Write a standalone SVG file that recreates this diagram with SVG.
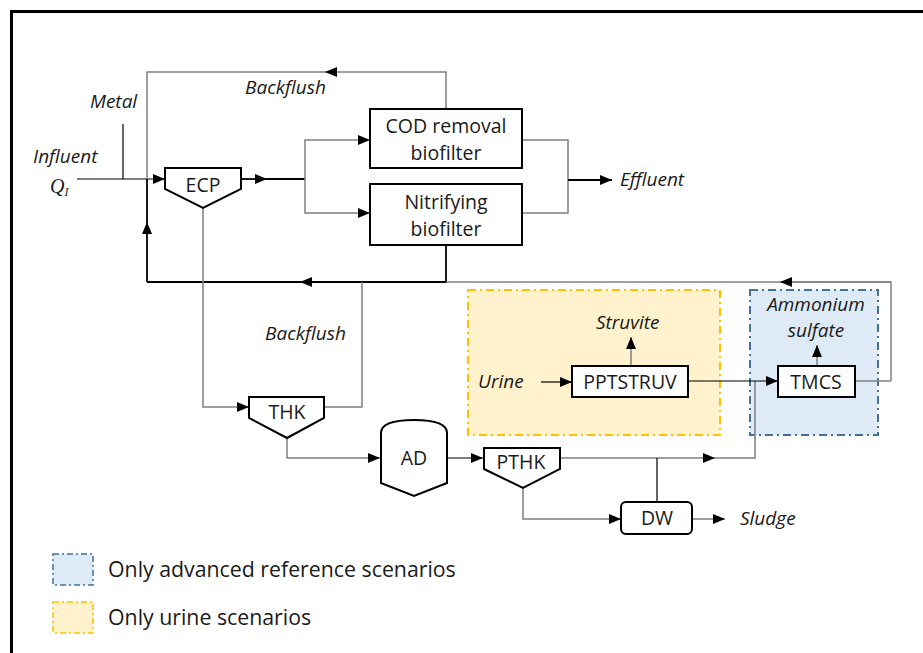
<svg xmlns="http://www.w3.org/2000/svg" width="923" height="653" viewBox="0 0 923 653">
<defs>
<marker id="ah" markerUnits="userSpaceOnUse" markerWidth="14" markerHeight="12" refX="12" refY="5" orient="auto">
<path d="M0,0 L12,5 L0,10 Z" fill="#000"/>
</marker>
<style>
text{font-family:"Open Sans","Liberation Sans",Arial,sans-serif;fill:#1a1a1a}
.n{font-size:19.5px;text-anchor:middle}
.i{font-size:19px;font-style:italic}
.lg{font-size:21.3px}
.box{fill:#fff;stroke:#000;stroke-width:2}
.g{fill:none;stroke:#7f7f7f;stroke-width:1.5}
.b{fill:none;stroke:#000;stroke-width:1.8}
.t{fill:none;stroke:#000;stroke-width:1.2}
.a{marker-end:url(#ah)}
</style>
</defs>
<rect width="923" height="653" fill="#fff"/>
<path d="M11.5,653 V11.5 H923" fill="none" stroke="#000" stroke-width="3"/>

<g id="urine-area"><rect x="468" y="290" width="252" height="145" fill="#FFF2CC" stroke="#FFC000" stroke-width="2" stroke-dasharray="8,4,2,4"/></g>
<g id="advanced-area"><rect x="750" y="290" width="128" height="145" fill="#DEEBF7" stroke="#41719C" stroke-width="2" stroke-dasharray="8,4,2,4"/></g>

<g id="connectors">
<path class="t a" d="M77,179 H165"/>
<path class="t" d="M123,124 V179"/>
<path class="b a" d="M241,179 H267"/>
<path class="b" d="M267,179 H305"/>
<path class="g a" d="M305,179 V140 H370"/>
<path class="g a" d="M305,179 V213 H370"/>
<path class="g" d="M522,140 H568 V213 H522"/>
<path class="b a" d="M568,180 H612"/>
<path class="g a" d="M446,108 V72 H325"/>
<path class="g" d="M325,72 H147 V179"/>
<path class="b a" d="M147,282 V222"/>
<path class="b" d="M147,222 V179"/>
<path class="b a" d="M446,245 V282 H300"/>
<path class="b" d="M300,282 H147"/>
<path class="g" d="M891,381 V282 H780"/>
<path class="g a" d="M891,282 H780"/>
<path class="g" d="M780,282 H446"/>
<path class="g" d="M362,282 V407 H324"/>
<path class="g a" d="M203,208 V407 H249"/>
<path class="g a" d="M287,438 V458 H380"/>
<path class="t a" d="M447,458 H483"/>
<path class="g a" d="M560,458 H715"/>
<path class="g" d="M715,458 H755 V381"/>
<path class="t" d="M657,458 V502"/>
<path class="g a" d="M523,488 V519 H621"/>
<path class="g a" d="M692,519 H725"/>
<path class="t a" d="M541,382 H572"/>
<path class="g a" d="M631,366 V337"/>
<path class="t a" d="M688,381 H778"/>
<path class="g" d="M855,381 H891"/>
<path class="g a" d="M817,366 V345"/>
</g>

<g id="ECP"><path class="box" d="M165,168 H241 V189 L203,208 L165,189 Z"/><text class="n" x="203" y="192">ECP</text></g>
<g id="COD"><rect class="box" x="370" y="109" width="152" height="59"/><text class="n" x="446" y="133">COD removal</text><text class="n" x="446" y="160">biofilter</text></g>
<g id="NIT"><rect class="box" x="370" y="184" width="152" height="61"/><text class="n" x="446" y="209">Nitrifying</text><text class="n" x="446" y="236">biofilter</text></g>
<g id="THK"><path class="box" d="M249,397 H324 V418 L287,438 L249,418 Z"/><text class="n" x="287" y="419">THK</text></g>
<g id="AD"><path class="box" d="M381,483 V433 Q381,420 414,420 Q447,420 447,433 V483 L414,496 Z"/><text class="n" x="414" y="465">AD</text></g>
<g id="PTHK"><path class="box" d="M484,448 H560 V469 L523,488 L484,469 Z"/><text class="n" x="521" y="469">PTHK</text></g>
<g id="DW"><rect class="box" x="621" y="502" width="71" height="32" rx="5"/><text class="n" x="657" y="525">DW</text></g>
<g id="PPTSTRUV"><rect class="box" x="572" y="366" width="116" height="31"/><text class="n" x="630" y="389">PPTSTRUV</text></g>
<g id="TMCS"><rect class="box" x="778" y="366" width="77" height="31"/><text class="n" x="816" y="389">TMCS</text></g>

<g id="labels">
<text class="i" x="90" y="108">Metal</text>
<text class="i" x="33" y="163">Influent</text>
<text x="50" y="193" style="font-family:'Liberation Serif',serif;font-style:italic;font-size:20px">Q<tspan font-size="12" dy="3">I</tspan></text>
<text class="i" x="245" y="94">Backflush</text>
<text class="i" x="620" y="186">Effluent</text>
<text class="i" x="265" y="340">Backflush</text>
<text class="i" x="596" y="329">Struvite</text>
<text class="i" x="478" y="388">Urine</text>
<text class="i" x="816" y="311" text-anchor="middle">Ammonium</text>
<text class="i" x="816" y="337" text-anchor="middle">sulfate</text>
<text class="i" x="740" y="525">Sludge</text>
</g>

<g id="legend">
<rect x="53" y="554" width="40" height="31" fill="#DEEBF7" stroke="#41719C" stroke-width="1.5" stroke-dasharray="6,3,2,3"/>
<rect x="53" y="602" width="40" height="31" fill="#FFF2CC" stroke="#FFC000" stroke-width="1.5" stroke-dasharray="6,3,2,3"/>
<text class="lg" x="108" y="577">Only advanced reference scenarios</text>
<text class="lg" x="108" y="625">Only urine scenarios</text>
</g>
</svg>
